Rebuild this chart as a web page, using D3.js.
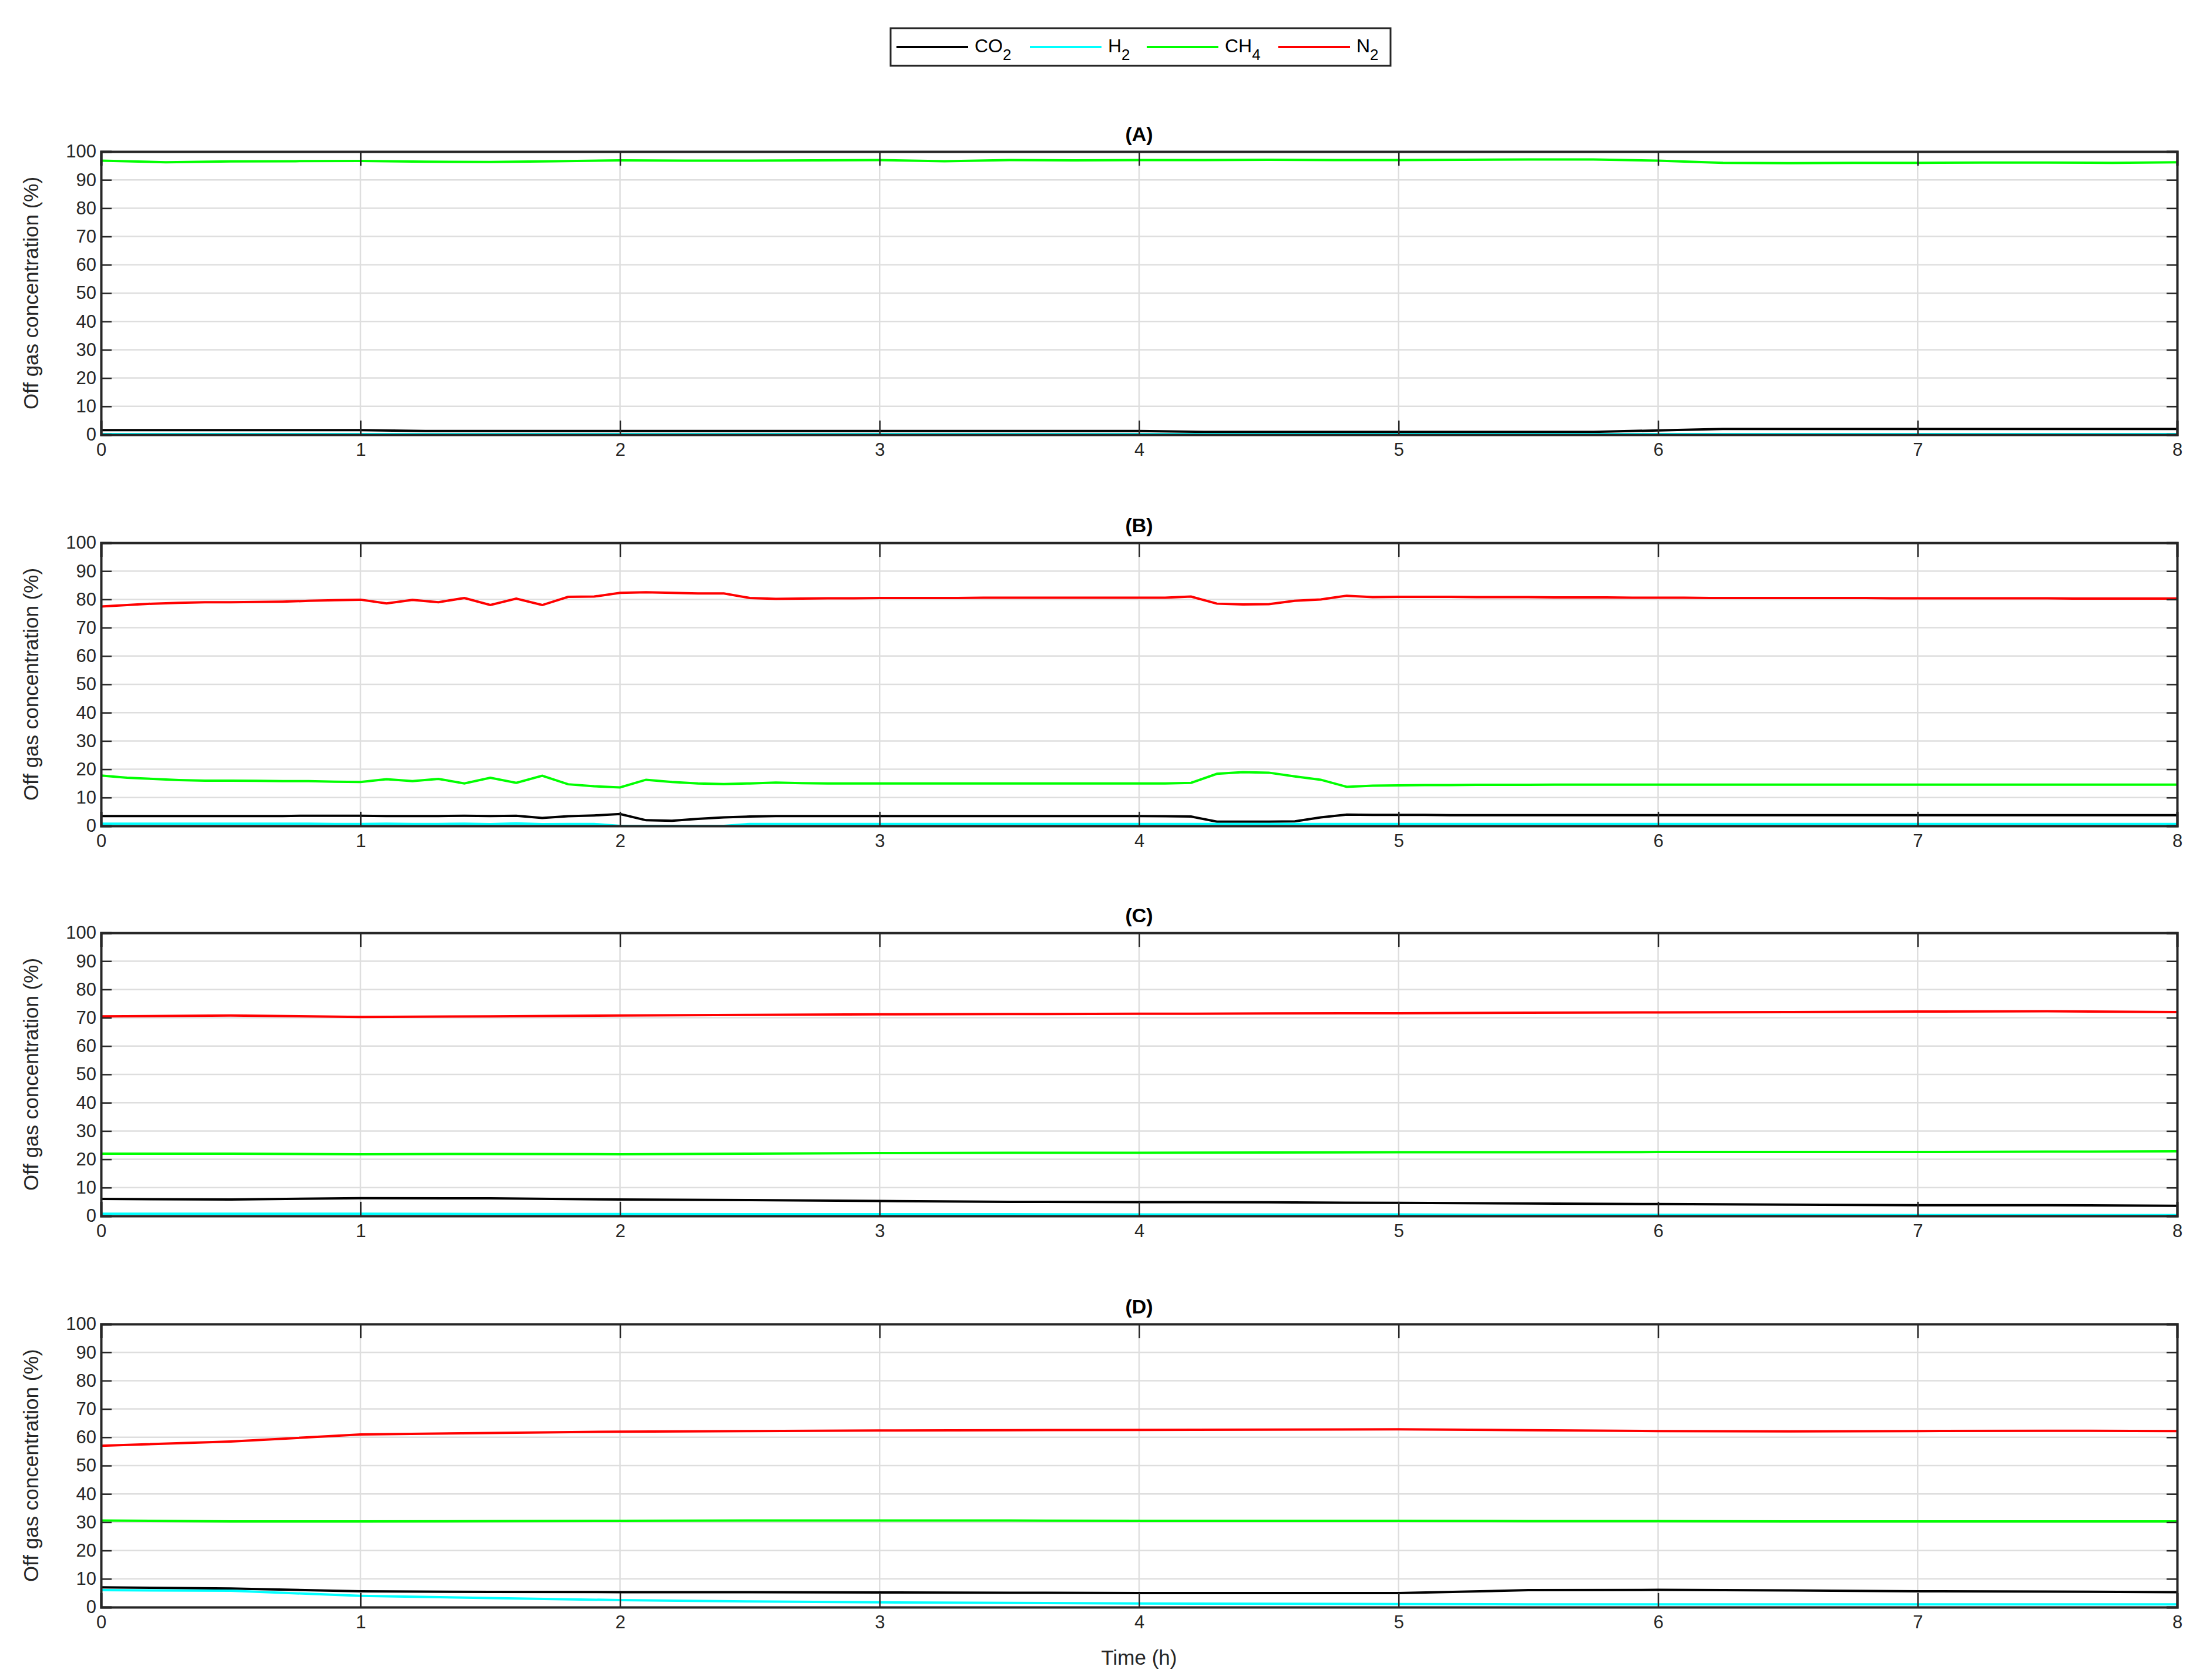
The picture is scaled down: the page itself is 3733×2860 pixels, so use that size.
<!DOCTYPE html>
<html><head><meta charset="utf-8">
<script src="https://cdn.jsdelivr.net/npm/d3@7"></script>
<style>body{margin:0;background:#fff}svg{display:block}text{font-family:"Liberation Sans",Arial,sans-serif}</style>
</head><body>
<script>
const W=3733,H=2860;
const xTicks=[0,1,2,3,4,5,6,7,8];
const yTicks=[0,10,20,30,40,50,60,70,80,90,100];
const panelTitles=["(A)","(B)","(C)","(D)"];
const gases=["CO2","H2","CH4","N2"];
const gasColors=["#000000","#00ffff","#00ff00","#ff0000"];

const tA=[0,0.25,0.5,0.75,1,1.25,1.5,1.75,2,2.25,2.5,2.75,3,3.25,3.5,3.75,4,4.25,4.5,4.75,5,5.25,5.5,5.75,6,6.25,6.5,6.75,7,7.25,7.5,7.75,8];
const A_CO2=[1.6,1.6,1.6,1.6,1.6,1.3,1.3,1.3,1.3,1.3,1.3,1.3,1.3,1.3,1.3,1.3,1.3,1.0,1.0,1.0,1.0,1.0,1.0,1.0,1.5,2.0,2.0,2.0,2.0,2.0,2.0,2.0,2.0];
const A_H2=[0.2,0.2,0.2,0.2,0.2,0.2,0.2,0.2,0.2,0.2,0.2,0.2,0.2,0.2,0.2,0.2,0.2,0.2,0.2,0.2,0.2,0.2,0.2,0.2,0.2,0.2,0.2,0.2,0.2,0.2,0.2,0.2,0.2];
const A_CH4=[96.8,96.2,96.5,96.6,96.7,96.4,96.3,96.6,96.9,96.8,96.8,96.9,97.0,96.6,97.0,96.9,97.0,97.0,97.1,97.0,97.0,97.1,97.2,97.2,96.8,96.0,95.9,96.0,96.0,96.1,96.1,96.0,96.2];
const A_N2=null;

const tB=[0,0.1,0.2,0.3,0.4,0.5,0.6,0.7,0.8,0.9,1,1.1,1.2,1.3,1.4,1.5,1.6,1.7,1.8,1.9,2,2.1,2.2,2.3,2.4,2.5,2.6,2.7,2.8,2.9,3,3.1,3.2,3.3,3.4,3.5,3.6,3.7,3.8,3.9,4,4.1,4.2,4.3,4.4,4.5,4.6,4.7,4.8,4.9,5,5.1,5.2,5.3,5.4,5.5,5.6,5.7,5.8,5.9,6,6.1,6.2,6.3,6.4,6.5,6.6,6.7,6.8,6.9,7,7.1,7.2,7.3,7.4,7.5,7.6,7.7,7.8,7.9,8];
const B_N2=[77.5,78,78.5,78.8,79,79,79.1,79.2,79.5,79.7,79.9,78.6,79.8,79.0,80.5,78.0,80.3,78.0,80.9,81.0,82.3,82.5,82.3,82.1,82.1,80.5,80.2,80.3,80.4,80.4,80.5,80.5,80.5,80.5,80.6,80.6,80.6,80.6,80.6,80.6,80.6,80.6,81.0,78.5,78.2,78.3,79.5,80.0,81.3,80.8,80.9,80.9,80.9,80.8,80.8,80.8,80.7,80.7,80.7,80.6,80.6,80.6,80.5,80.5,80.5,80.5,80.5,80.5,80.5,80.4,80.4,80.4,80.4,80.4,80.4,80.4,80.3,80.3,80.3,80.3,80.3];
const B_CH4=[17.8,17.0,16.6,16.2,16.0,16.0,15.9,15.8,15.8,15.6,15.5,16.5,15.8,16.6,15.0,17.0,15.2,17.7,14.7,14.0,13.6,16.3,15.5,15.0,14.8,15.0,15.3,15.1,15.0,15.0,15.0,15.0,15.0,15.0,15.0,15.0,15.0,15.0,15.0,15.0,15.0,15.0,15.2,18.4,19.0,18.8,17.5,16.3,13.8,14.2,14.3,14.4,14.4,14.5,14.5,14.5,14.6,14.6,14.6,14.6,14.6,14.6,14.6,14.6,14.6,14.6,14.6,14.6,14.6,14.6,14.6,14.6,14.6,14.6,14.6,14.6,14.6,14.6,14.6,14.6,14.6];
const B_CO2=[3.5,3.5,3.5,3.5,3.5,3.5,3.5,3.5,3.6,3.6,3.6,3.5,3.5,3.5,3.6,3.5,3.6,2.8,3.4,3.7,4.2,2.0,1.8,2.5,3.0,3.3,3.5,3.5,3.5,3.5,3.5,3.5,3.5,3.5,3.5,3.5,3.5,3.5,3.5,3.5,3.5,3.4,3.3,1.5,1.5,1.5,1.6,3.0,4.0,3.9,3.9,3.9,3.8,3.8,3.8,3.8,3.8,3.8,3.8,3.8,3.8,3.8,3.8,3.8,3.8,3.8,3.8,3.8,3.8,3.8,3.8,3.8,3.8,3.8,3.8,3.8,3.8,3.8,3.8,3.8,3.8];
const B_H2=[0.8,0.8,0.8,0.8,0.8,0.8,0.8,0.8,0.8,0.7,0.7,0.8,0.7,0.7,0.8,0.6,0.9,0.6,0.7,0.7,0.0,0.0,0.0,0.0,0.0,0.7,0.7,0.7,0.7,0.7,0.7,0.7,0.7,0.7,0.7,0.7,0.7,0.7,0.7,0.7,0.7,0.7,0.7,0.7,0.7,0.7,0.7,0.7,0.7,0.7,0.7,0.7,0.7,0.7,0.7,0.7,0.7,0.7,0.7,0.7,0.7,0.7,0.7,0.7,0.7,0.7,0.7,0.7,0.7,0.7,0.7,0.7,0.7,0.7,0.7,0.7,0.7,0.7,0.7,0.7,0.7];

const tCD=[0,0.5,1,1.5,2,2.5,3,3.5,4,4.5,5,5.5,6,6.5,7,7.5,8];
const C_N2=[70.5,70.8,70.3,70.5,70.8,71.0,71.2,71.3,71.4,71.5,71.6,71.8,71.9,72.0,72.2,72.3,72.0];
const C_CH4=[22.0,22.0,21.8,21.9,21.8,22.0,22.2,22.3,22.3,22.4,22.5,22.5,22.6,22.6,22.6,22.7,22.8];
const C_CO2=[6.0,5.8,6.3,6.2,5.8,5.6,5.3,5.0,4.9,4.8,4.6,4.4,4.2,4.0,3.8,3.8,3.6];
const C_H2=[0.8,0.8,0.8,0.7,0.7,0.6,0.6,0.6,0.5,0.5,0.5,0.4,0.4,0.4,0.3,0.3,0.3];

const D_N2=[57.0,58.5,61.0,61.5,62.0,62.2,62.4,62.5,62.6,62.7,62.8,62.5,62.2,62.1,62.2,62.3,62.2];
const D_CH4=[30.6,30.3,30.3,30.4,30.5,30.6,30.6,30.6,30.5,30.5,30.5,30.4,30.4,30.3,30.3,30.3,30.3];
const D_CO2=[7.0,6.6,5.6,5.4,5.3,5.3,5.2,5.1,5.0,5.0,5.0,6.0,6.1,5.9,5.6,5.5,5.3];
const D_H2=[6.0,5.8,4.0,3.2,2.5,2.0,1.7,1.5,1.3,1.2,1.1,1.0,1.0,1.0,1.0,1.0,1.0];

const panels=[
 {t:tA,s:[A_CO2,A_H2,A_CH4,A_N2]},
 {t:tB,s:[B_CO2,B_H2,B_CH4,B_N2]},
 {t:tCD,s:[C_CO2,C_H2,C_CH4,C_N2]},
 {t:tCD,s:[D_CO2,D_H2,D_CH4,D_N2]}];

const svg=d3.select("body").append("svg").attr("width",W).attr("height",H);
const L=172,R=3706,tops=[258,924,1588,2254],ph=482;
const x=d3.scaleLinear().domain([0,8]).range([L,R]);
const fs=31;
panels.forEach((p,i)=>{
  const y=d3.scaleLinear().domain([0,100]).range([tops[i]+ph,tops[i]]);
  const g=svg.append("g");
  // grid
  g.selectAll(".gy").data(yTicks).join("line").attr("x1",L).attr("x2",R).attr("y1",d=>y(d)).attr("y2",d=>y(d)).attr("stroke","#dedede").attr("stroke-width",2.5);
  g.selectAll(".gx").data(xTicks).join("line").attr("y1",tops[i]).attr("y2",tops[i]+ph).attr("x1",d=>x(d)).attr("x2",d=>x(d)).attr("stroke","#dedede").attr("stroke-width",2.5);
  // lines
  p.s.forEach((vals,k)=>{
    if(!vals) return;
    const line=d3.line().x((d,j)=>x(p.t[j])).y(d=>y(d));
    g.append("path").datum(vals).attr("d",line).attr("fill","none").attr("stroke",gasColors[k]).attr("stroke-width",4);
  });
  // axes
  const ax=d3.axisBottom(x).tickValues(xTicks).tickSize(-ph*0.05).tickPadding(14).tickFormat(d3.format("d"));
  const gb=g.append("g").attr("transform",`translate(0,${tops[i]+ph})`).call(ax);
  const gt=g.append("g").attr("transform",`translate(0,${tops[i]})`).call(d3.axisTop(x).tickValues(xTicks).tickSize(-ph*0.05).tickFormat(""));
  const gl=g.append("g").attr("transform",`translate(${L},0)`).call(d3.axisLeft(y).tickValues(yTicks).tickSize(-18).tickPadding(8));
  const gr=g.append("g").attr("transform",`translate(${R},0)`).call(d3.axisRight(y).tickValues(yTicks).tickSize(-18).tickFormat(""));
  [gb,gt,gl,gr].forEach(a=>{a.selectAll("path").attr("stroke","#262626").attr("stroke-width",4);
    a.selectAll("line").attr("stroke","#262626").attr("stroke-width",2.5);
    a.selectAll("text").attr("font-size",fs).attr("fill","#262626").attr("font-family","Liberation Sans, Arial");});
  gb.selectAll("text").attr("dy","0.71em");
  svg.append("text").attr("x",(L+R)/2).attr("y",tops[i]-18).attr("text-anchor","middle").attr("font-weight","bold").attr("font-size",34).attr("fill","#000").text(panelTitles[i]);
  svg.append("text").attr("transform",`translate(${L-107},${tops[i]+ph/2}) rotate(-90)`).attr("text-anchor","middle").attr("font-size",35).attr("fill","#262626").text("Off gas concentration (%)");
});
svg.append("text").attr("x",(L+R)/2).attr("y",2834).attr("text-anchor","middle").attr("font-size",35).attr("fill","#262626").text("Time (h)");

// legend
const lg=svg.append("g");
lg.append("rect").attr("x",1516).attr("y",48).attr("width",851).attr("height",64).attr("fill","#fff").attr("stroke","#262626").attr("stroke-width",3);
const lx=[1526,1753,1952,2176];
const labs=[["CO","2"],["H","2"],["CH","4"],["N","2"]];
gases.forEach((gname,k)=>{
  lg.append("line").attr("x1",lx[k]).attr("x2",lx[k]+122).attr("y1",80).attr("y2",80).attr("stroke",gasColors[k]).attr("stroke-width",4);
  const t=lg.append("text").attr("x",lx[k]+133).attr("y",89).attr("font-size",32).attr("fill","#000");
  t.append("tspan").text(labs[k][0]);
  t.append("tspan").attr("dy",13).attr("font-size",26).text(labs[k][1]);
});
</script>
</body></html>
